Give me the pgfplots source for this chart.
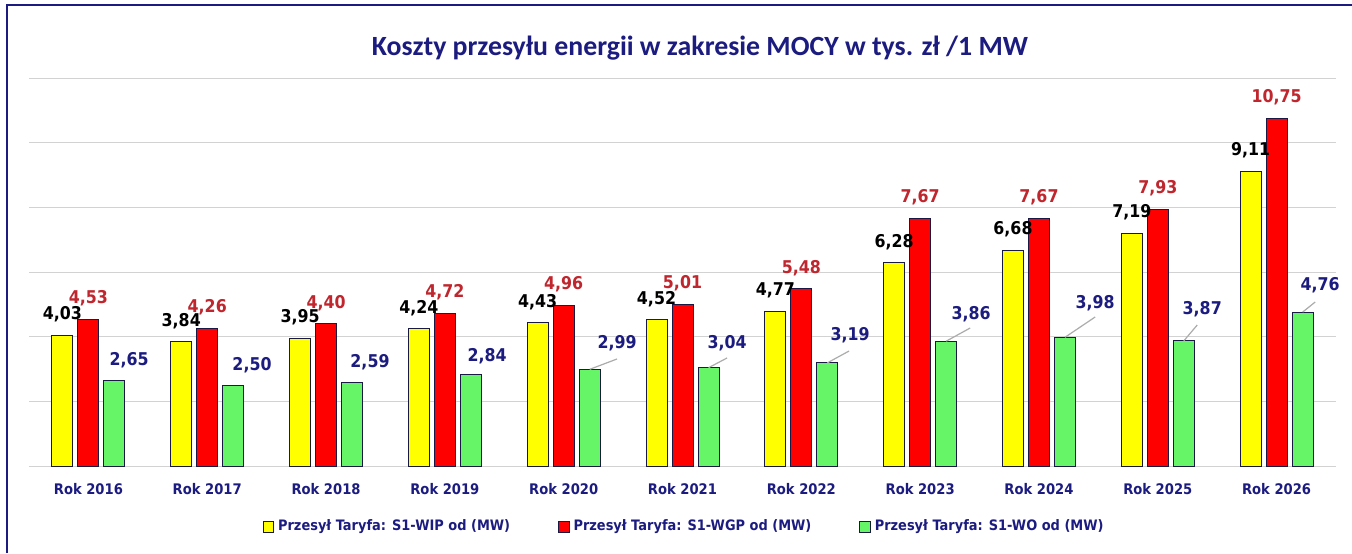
\documentclass[border=0pt]{standalone}
\usepackage{fontspec}
\usepackage{pgfplots}
\usepackage{pgfplotstable}
\pgfplotsset{compat=1.18}
\newfontfamily\tah[FakeStretch=0.9]{DejaVu Sans}
\newfontfamily\carl{Carlito}
\definecolor{navy}{RGB}{28,28,128}
\definecolor{lblred}{RGB}{192,38,45}
\definecolor{barY}{RGB}{255,255,0}
\definecolor{barR}{RGB}{255,0,0}
\definecolor{barG}{RGB}{102,245,102}
\definecolor{edge}{RGB}{25,25,70}

\pgfplotstableread{
x Y R G
0 4.03 4.53 2.65
1 3.84 4.26 2.50
2 3.95 4.40 2.59
3 4.24 4.72 2.84
4 4.43 4.96 2.99
5 4.52 5.01 3.04
6 4.77 5.48 3.19
7 6.28 7.67 3.86
8 6.68 7.67 3.98
9 7.19 7.93 3.87
10 9.11 10.75 4.76
}\data

% green label positions (label centre) and value
\pgfplotstableread{
x y v
0.342 3.279 2.65
1.377 3.124 2.50
2.370 3.217 2.59
3.355 3.402 2.84
4.449 3.804 2.99
5.375 3.804 3.04
6.411 4.052 3.19
7.429 4.701 3.86
8.473 5.042 3.98
9.374 4.856 3.87
10.367 5.598 4.76
}\glabels

\begin{document}
\begin{tikzpicture}[x=1pt,y=1pt]
\path[use as bounding box,fill=white] (0,0) rectangle (676,276.5);
\draw[navy,line width=0.8pt] (3.5,0) -- (3.5,274) -- (676,274);
\node[font=\carl\bfseries\fontsize{13.9}{16}\selectfont,text=navy] at (350,252.5) {Koszty przesyłu energii w zakresie MOCY w tys. zł /1 MW};
\begin{axis}[
  at={(14.5pt,43.5pt)}, anchor=south west,
  scale only axis, width=653.5pt, height=194pt,
  xmin=-0.5, xmax=10.5, ymin=0, ymax=12,
  xtick={0,...,10},
  xticklabels={Rok 2016,Rok 2017,Rok 2018,Rok 2019,Rok 2020,Rok 2021,Rok 2022,Rok 2023,Rok 2024,Rok 2025,Rok 2026},
  xticklabel style={font=\tah\bfseries\fontsize{7.3}{9}\selectfont, text=navy, anchor=base, yshift=-14pt},
  ytick={0,2,...,12}, yticklabels={},
  ymajorgrids, grid style={gray!35, line width=0.5pt},
  axis line style={draw=none}, major tick length=0pt,
  clip=false,
  /pgf/number format/.cd, fixed, fixed zerofill, precision=2, use comma, assume math mode=true,
  /pgfplots/.cd,
  mybar/.style={ybar, bar width=10.5pt, draw=edge, line width=0.5pt,
    legend image code/.code={\draw[##1, line width=0.5pt] (0pt,-2.6pt) rectangle (5.2pt,2.6pt);}},
  lbl/.style={only marks, mark=none, forget plot, nodes near coords,
    nodes near coords style={anchor=center, font=\tah\bfseries\fontsize{8.8}{10}\selectfont}},
  legend columns=3,
  legend style={at={(0.502,0)}, anchor=center, yshift=-30.5pt, draw=none, fill=none,
    font=\tah\bfseries\fontsize{7.2}{9}\selectfont, text=navy,
    /tikz/every even column/.append style={column sep=22pt}},
  legend cell align=left,
]
\addplot[mybar, fill=barY, bar shift=-13pt] table[x=x,y=Y] {\data};
\addlegendentry{Przesył Taryfa: S1-WIP od (MW)}
\addplot[mybar, fill=barR, bar shift=0pt] table[x=x,y=R] {\data};
\addlegendentry{Przesył Taryfa: S1-WGP od (MW)}
\addplot[mybar, fill=barG, bar shift=13pt] table[x=x,y=G] {\data};
\addlegendentry{Przesył Taryfa: S1-WO od (MW)}

% leader lines for green labels
\addplot[forget plot, gray!65, line width=0.6pt, unbounded coords=jump, mark=none] coordinates {
(4.219,2.99) (4.449,3.310) (4.3,nan)
(5.219,3.04) (5.375,3.341) (5.3,nan)
(6.219,3.19) (6.402,3.557) (6.3,nan)
(7.219,3.86) (7.421,4.268) (7.3,nan)
(8.219,3.98) (8.473,4.609) (8.3,nan)
(9.219,3.87) (9.332,4.361) (9.3,nan)
(10.219,4.76) (10.325,5.073)
};

\addplot[lbl, nodes near coords style={xshift=-13pt, yshift=10.5pt, text=black}] table[x=x,y=Y] {\data};
\addplot[lbl, nodes near coords style={yshift=10.5pt, text=lblred}] table[x=x,y=R] {\data};
\addplot[lbl, point meta=explicit, nodes near coords style={text=navy}] table[x=x,y=y,meta=v] {\glabels};
\end{axis}
\end{tikzpicture}
\end{document}
